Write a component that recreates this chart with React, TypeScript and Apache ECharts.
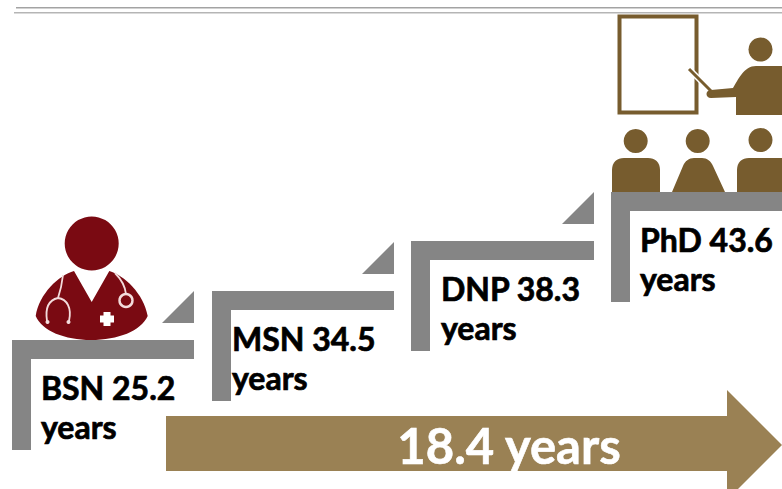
import React, { useEffect, useRef } from "react";
import * as echarts from "echarts";

const degrees = ["BSN", "MSN", "DNP", "PhD"];
const ages = ["25.2", "34.5", "38.3", "43.6"];
const unit = "years";
const totalLabel = "18.4 years";

const GREY = "#858585";
const MAROON = "#7a0a12";
const BROWN = "#775c2e";
const TAN = "#9a8154";
const FONT = '"Lato", "Open Sans", sans-serif';

const stepX = [12, 212, 411, 611];
const stepY = [340, 291, 241, 192];
const stepW = [182, 182, 183, 171];
const textX = [41, 232, 441, 640];

const doctorBody =
  "M74 271 L91.7 302 L109.3 271 C124 275 144 294 147.7 316 C141 331 118 340 91 340 C65 340 42 331 35.7 316 C39 294 59 275 74 271 Z";
const stethoLeft =
  "M63 275 C62 284 60 292 58 298 C49 300 45 308 47 321 M58 298 C67 299 72 308 69 321";
const stethoRight = "M115 273 C121 279 125 286 126 294";
const teacherBody =
  "M736 115 L736 97 L711 98 C705 98 705 90 711 90 L733 88 C738 80 744 66 756 66 L782 66 L782 115 Z";
const sitLeft =
  "M612 192 L612 170 C612 162 617 158 624 158 L648 158 C655 158 660 162 660 170 L660 192 Z";
const sitMid =
  "M672 192 L683 166 C685 161 689 158 694 158 L702 158 C707 158 711 161 713 166 L725 192 Z";
const sitRight = "M737 192 L737 170 C737 162 742 158 749 158 L782 158 L782 192 Z";

echarts.graphic.registerShape("doctorBody", echarts.graphic.extendPath(doctorBody, {}));
echarts.graphic.registerShape("stethoLeft", echarts.graphic.extendPath(stethoLeft, {}));
echarts.graphic.registerShape("stethoRight", echarts.graphic.extendPath(stethoRight, {}));
echarts.graphic.registerShape("teacherBody", echarts.graphic.extendPath(teacherBody, {}));
echarts.graphic.registerShape("sitLeft", echarts.graphic.extendPath(sitLeft, {}));
echarts.graphic.registerShape("sitMid", echarts.graphic.extendPath(sitMid, {}));
echarts.graphic.registerShape("sitRight", echarts.graphic.extendPath(sitRight, {}));

function buildGraphics() {
  const els: any[] = [];
  const rect = (x: number, y: number, w: number, h: number, fill: string) =>
    els.push({ type: "rect", shape: { x, y, width: w, height: h }, style: { fill } });
  const circle = (cx: number, cy: number, r: number, fill: string) =>
    els.push({ type: "circle", shape: { cx, cy, r }, style: { fill } });

  rect(16, 7, 766, 1.5, "#a3a3a3");
  rect(14, 12, 768, 1.5, "#b5b5b5");

  // Doctor
  circle(91.7, 243.5, 27, MAROON);
  els.push({ type: "doctorBody", style: { fill: MAROON } });
  els.push({ type: "stethoLeft", style: { fill: "none", stroke: "#f3dcdc", lineWidth: 1.8 } });
  els.push({ type: "stethoRight", style: { fill: "none", stroke: "#f3dcdc", lineWidth: 1.8 } });
  circle(47.5, 322, 2, "#f3dcdc");
  circle(68.5, 322, 2, "#f3dcdc");
  els.push({
    type: "circle",
    shape: { cx: 126, cy: 300.5, r: 6.5 },
    style: { fill: "none", stroke: "#f3dcdc", lineWidth: 2.4 },
  });
  rect(103.5, 312, 7, 14, "#ffffff");
  rect(100, 315.5, 14, 7, "#ffffff");

  // Teacher and audience
  els.push({
    type: "rect",
    shape: { x: 619.5, y: 16.5, width: 77, height: 96 },
    style: { fill: "#ffffff", stroke: BROWN, lineWidth: 4 },
  });
  els.push({
    type: "line",
    shape: { x1: 687, y1: 67, x2: 711, y2: 91 },
    style: { stroke: "#ffffff", lineWidth: 6 },
  });
  els.push({
    type: "line",
    shape: { x1: 689, y1: 69, x2: 711, y2: 91 },
    style: { stroke: BROWN, lineWidth: 3 },
  });
  circle(760.5, 49.5, 12, BROWN);
  els.push({ type: "teacherBody", style: { fill: BROWN } });
  circle(635.7, 141, 12, BROWN);
  circle(697.7, 141, 12, BROWN);
  circle(760.5, 140, 12, BROWN);
  els.push({ type: "sitLeft", style: { fill: BROWN } });
  els.push({ type: "sitMid", style: { fill: BROWN } });
  els.push({ type: "sitRight", style: { fill: BROWN } });

  // Steps
  degrees.forEach((deg, i) => {
    rect(stepX[i], stepY[i], stepW[i], 19, GREY);
    rect(stepX[i], stepY[i], 19, 110, GREY);
    if (i < degrees.length - 1) {
      const r = stepX[i] + stepW[i];
      const b = stepY[i] - 17;
      els.push({
        type: "polygon",
        shape: { points: [[r - 32, b], [r, b - 32], [r, b]] },
        style: { fill: GREY },
      });
    }
    const font = `bold 32px ${FONT}`;
    const textStyle = { fill: "#000000", stroke: "#000000", lineWidth: 0.7, font, textAlign: "left", textVerticalAlign: "middle" };
    els.push({
      type: "text",
      x: textX[i],
      y: stepY[i] + 47.5,
      style: { text: `${deg} ${ages[i]}`, ...textStyle },
    });
    els.push({
      type: "text",
      x: textX[i],
      y: stepY[i] + 86,
      style: { text: unit, ...textStyle },
    });
  });

  // Arrow
  els.push({
    type: "polygon",
    shape: { points: [[166, 416], [727, 416], [727, 390], [782, 445], [727, 500], [727, 471], [166, 471]] },
    style: { fill: TAN },
  });
  els.push({
    type: "text",
    x: 509,
    y: 445,
    style: {
      text: totalLabel,
      fill: "#ffffff",
      stroke: "#ffffff",
      lineWidth: 0.6,
      font: `bold 49px ${FONT}`,
      textAlign: "center",
      textVerticalAlign: "middle",
    },
  });
  return els;
}

export default function App() {
  const ref = useRef<HTMLDivElement>(null);
  useEffect(() => {
    if (!ref.current) return;
    document.body.style.margin = "0";
    const chart = echarts.init(ref.current, undefined, { renderer: "svg" });
    chart.setOption({ animation: false, backgroundColor: "#ffffff", graphic: { elements: buildGraphics() } });
    return () => chart.dispose();
  }, []);
  return <div ref={ref} style={{ position: "fixed", left: 0, top: 0, width: 782, height: 489 }} />;
}
